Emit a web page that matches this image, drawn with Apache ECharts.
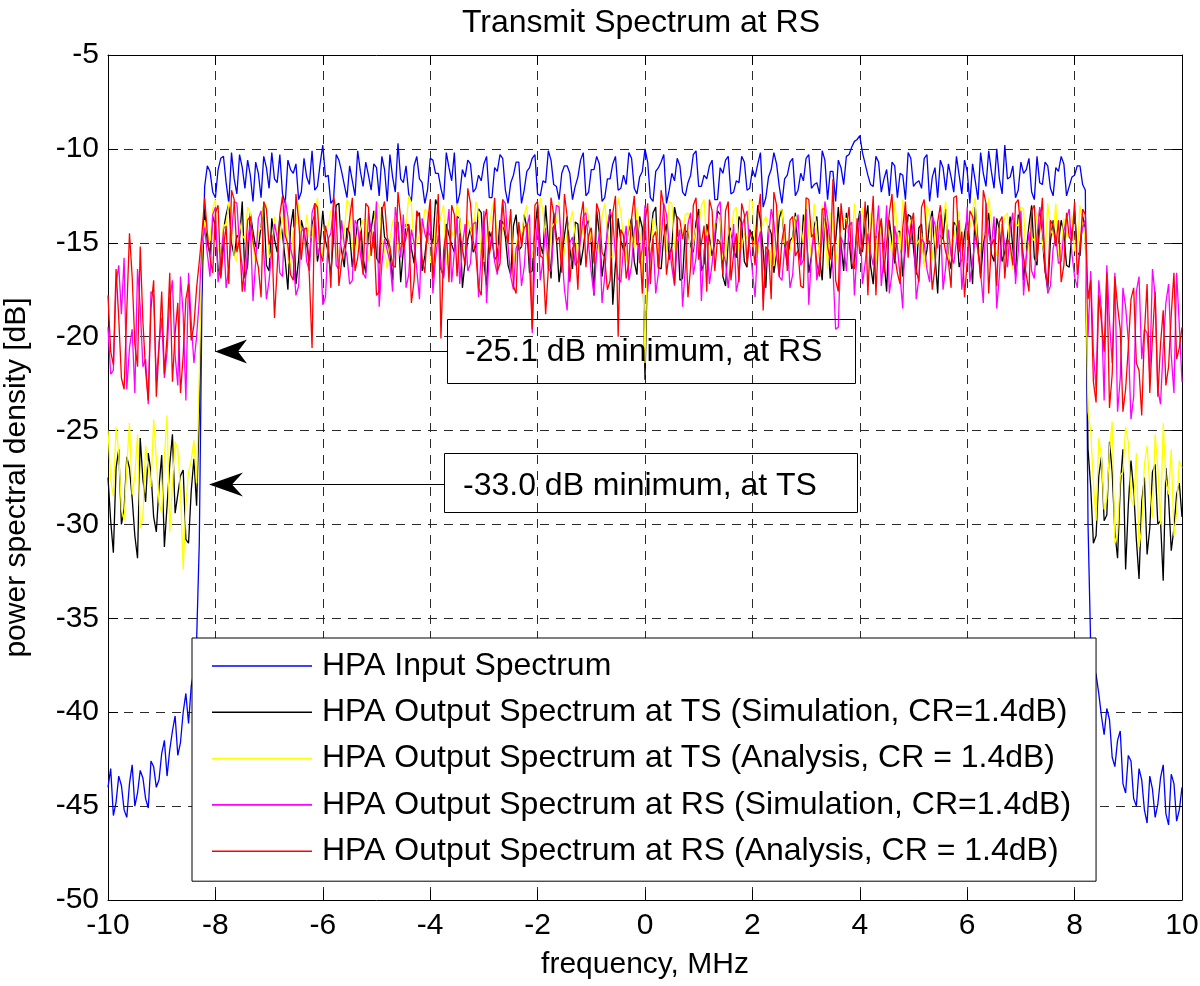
<!DOCTYPE html>
<html>
<head>
<meta charset="utf-8">
<script src="https://cdn.jsdelivr.net/npm/echarts/dist/echarts.min.js"></script>
<style>html,body{margin:0;padding:0;background:#fff}#chart{width:1200px;height:986px}</style>
</head>
<body>
<div id="chart"></div>
<script>
// ---------- data ----------
const titleText = 'Transmit Spectrum at RS';
const xAxisName = 'frequency, MHz';
const yAxisName = 'power spectral density [dB]';
// samples "A" lie on -10, -9.9, ..., 10 ; samples "B" lie half a step later: -9.95, -9.85, ..., 9.95
const freqStart = -10, freqStep = 0.1;
const xTicks = { min: -10, max: 10, interval: 2 };
const yTicks = { min: -50, max: -5, interval: 5 };
const seriesNames = [
  'HPA Input Spectrum',
  'HPA Output Spectrum at TS (Simulation, CR=1.4dB)',
  'HPA Output Spectrum at TS (Analysis, CR = 1.4dB)',
  'HPA Output Spectrum at RS (Simulation, CR=1.4dB)',
  'HPA Output Spectrum at RS (Analysis, CR = 1.4dB)'
];
const seriesColors = ['#0000ff', '#000000', '#ffff00', '#ff00ff', '#ff0000'];

const hpaInputA = [
-44.0,-45.5,-43.4,-45.2,-43.8,-45.0,-43.1,-44.6,-42.6,-44.0,-42.2,-43.4,-41.0,-42.3,-40.0,-40.6,-37.8,-31.0,
-12.0,-11.2,-12.6,-10.5,-11.8,-10.2,-12.4,-11.0,-10.6,-12.8,
-11.3,-10.4,-12.1,-11.6,-10.3,-12.9,-11.1,-10.8,-12.3,-11.5,
-10.1,-12.0,-9.8,-11.4,-12.7,-10.6,-11.9,-10.9,-12.5,-11.2,
-10.7,-12.2,-11.0,-10.4,-12.8,-11.5,-9.7,-11.8,-12.4,-10.9,
-11.6,-12.9,-10.5,-11.3,-12.1,-10.2,-11.7,-13.0,-11.1,-10.6,
-12.3,-11.4,-10.8,-12.6,-11.0,-10.3,-12.2,-11.8,-10.7,-12.9,
-11.2,-10.5,-12.4,-11.7,-10.1,-11.9,-12.7,-10.9,-11.3,-12.0,
-10.6,-12.5,-11.1,-10.4,-12.8,-11.6,-10.8,-12.2,-11.4,-10.2,
-12.1,-11.5,-10.0,-12.6,-11.2,-10.7,-12.9,-11.3,-10.5,-12.3,
-11.8,-10.3,-12.0,-11.4,-10.9,-12.7,-11.0,-10.6,-12.4,-11.7,
-10.4,-12.2,-11.1,-10.8,-13.1,-11.5,-10.2,-12.0,-11.6,-10.7,
-12.5,-11.3,-10.5,-12.1,-11.8,-10.1,-12.7,-11.2,-10.6,-11.9,
-10.3,-9.6,-9.3,-10.8,-11.9,-10.4,-12.3,-11.1,-10.7,-12.6,
-11.4,-10.2,-12.0,-11.7,-10.5,-12.8,-11.0,-10.6,-12.2,-11.5,
-10.4,-12.4,-11.2,-10.8,-12.7,-11.3,-10.1,-12.1,-11.6,-9.8,
-11.5,-12.6,-10.7,-11.1,-12.3,-10.4,-11.9,-10.9,-12.5,-11.2,
-10.8,-12.0,-11.4,-10.9,-12.2,
-36.5,-38.0,-40.2,-39.8,-42.4,-41.5,-43.8,-42.3,-44.6,-43.0,-45.2,-43.4,-45.6,-43.5,-45.4,-43.3,-45.8,-44.0
];
const hpaInputB = [
-43.0,-44.8,-43.9,-45.6,-42.8,-44.3,-43.5,-45.1,-42.9,-43.6,-41.5,-42.0,-40.2,-41.6,-39.0,-38.6,-36.2,
-18.0,
-10.9,-12.3,-11.1,-10.4,-12.9,-11.6,-10.3,-12.1,-11.4,-10.7,
-12.6,-11.0,-10.2,-11.8,-12.4,-10.6,-11.3,-12.7,-10.5,-11.9,
-12.2,-10.8,-11.5,-12.9,-10.3,-11.2,-12.6,-11.7,-10.1,-12.0,
-11.4,-10.8,-12.5,-11.1,-10.3,-12.3,-11.6,-10.9,-12.8,-10.4,
-11.8,-12.2,-10.6,-11.3,-12.7,-11.0,-10.2,-12.4,-11.5,-10.8,
-12.1,-11.7,-10.4,-12.6,-11.2,-10.5,-12.9,-11.4,-10.7,-12.2,
-11.0,-10.3,-12.5,-11.8,-10.6,-12.0,-11.3,-10.9,-12.7,-11.5,
-10.2,-12.3,-11.1,-10.8,-12.6,-11.6,-10.4,-12.1,-11.9,-10.5,
-12.4,-11.2,-10.7,-12.8,-11.0,-10.3,-12.2,-11.7,-10.9,-12.5,
-11.4,-10.1,-12.0,-11.6,-10.6,-12.7,-11.3,-10.4,-12.3,-11.8,
-10.7,-12.1,-11.5,-10.2,-12.6,-11.1,-10.8,-12.9,-11.4,-10.5,
-12.2,-11.7,-10.3,-11.9,-12.4,-10.6,-11.2,-12.8,-11.0,-10.4,
-9.9,-9.5,-10.2,-11.4,-12.0,-10.7,-11.6,-12.5,-10.9,-11.3,
-12.7,-10.5,-11.8,-12.1,-10.3,-11.5,-12.6,-11.0,-10.8,-12.3,
-11.4,-10.6,-12.9,-11.7,-10.2,-12.0,-11.2,-10.0,-12.4,-11.6,
-10.9,-12.2,-11.3,-10.5,-12.7,-11.8,-10.7,-12.1,-11.0,-10.4,
-12.5,-11.5,-10.9,-11.9,
-30.0,
-37.5,-39.0,-41.2,-40.4,-42.9,-41.0,-44.3,-42.6,-45.0,-43.6,-45.9,-44.1,-44.9,-42.8,-46.0,-43.8,-45.2
];

const tsSimulationA = [
-27.5,-31.5,-26.0,-29.2,-27.0,-30.6,-25.4,-28.8,-27.2,-30.4,-26.3,-29.0,-25.2,-28.4,-27.1,-31.0,-26.5,-24.0,
-13.2,-15.6,-14.1,-16.8,-13.5,-15.0,-14.6,-12.8,-16.2,-14.4,
-15.3,-13.0,-16.5,-14.8,-13.6,-15.9,-14.2,-17.2,-13.8,-15.1,
-14.0,-16.0,-13.3,-15.5,-14.7,-12.9,-16.3,-14.5,-15.2,-13.7,
-16.6,-14.3,-15.8,-13.1,-14.9,-17.0,-13.9,-15.4,-14.1,-16.1,
-13.4,-15.7,-14.6,-12.7,-16.4,-14.0,-15.1,-13.6,-17.4,-14.8,
-15.5,-13.2,-16.0,-14.4,-15.9,-13.8,-14.7,-16.7,-13.5,-15.2,
-14.2,-16.5,-13.0,-15.6,-14.9,-13.4,-17.1,-14.6,-15.3,-13.9,
-16.2,-14.1,-15.0,-13.3,-16.8,-14.5,-18.3,-13.7,-15.4,-14.3,
-16.0,-13.6,-22.3,-14.8,-13.1,-16.4,-14.0,-15.2,-13.8,-16.9,
-14.4,-15.5,-13.2,-16.1,-14.7,-15.0,-13.5,-17.3,-14.2,-15.8,
-13.9,-16.3,-14.6,-13.0,-15.4,-14.1,-16.6,-13.7,-15.1,-14.9,
-13.4,-16.0,-14.3,-15.7,-13.6,-17.0,-14.5,-15.2,-13.1,-16.5,
-14.8,-15.9,-13.3,-14.0,-16.2,-14.7,-13.8,-17.6,-15.0,-14.4,
-16.8,-13.5,-15.3,-14.2,-16.1,-13.9,-15.6,-14.6,-13.2,-16.4,
-14.1,-15.8,-13.7,-17.2,-14.9,-15.1,-13.4,-16.0,-14.3,-15.5,
-13.6,-16.7,-14.0,-15.4,-13.0,-16.2,-14.8,-17.5,-13.8,-15.0,
-14.5,-16.3,-13.3,-15.7,-14.2,
-28.0,-30.6,-26.4,-29.5,-27.2,-31.8,-26.0,-29.0,-28.2,-32.9,-27.5,-30.2,-26.8,-29.8,-27.0,-31.4,-28.4,-29.6
];
const tsSimulationB = [
-29.8,-27.0,-30.0,-26.4,-28.6,-31.8,-27.6,-26.2,-29.6,-28.0,-31.2,-26.8,-29.4,-27.4,-30.8,-28.2,-29.0,
-16.5,
-15.0,-13.6,-16.4,-14.3,-12.9,-15.7,-14.8,-16.9,-13.4,-15.2,
-14.1,-16.2,-13.7,-15.5,-14.6,-17.5,-13.2,-15.9,-14.4,-16.0,
-13.5,-15.1,-14.9,-16.7,-13.0,-15.4,-14.2,-16.3,-13.8,-15.8,
-14.5,-13.3,-16.1,-14.7,-15.6,-13.9,-17.1,-14.0,-15.3,-13.6,
-16.5,-14.4,-15.0,-13.1,-16.8,-14.6,-15.5,-13.7,-16.0,-14.2,
-15.2,-13.4,-17.3,-14.8,-15.7,-13.9,-16.2,-14.1,-15.4,-13.5,
-16.6,-14.3,-15.1,-13.0,-16.9,-14.7,-15.8,-13.6,-16.4,-14.0,
-15.3,-13.8,-17.8,-14.5,-15.6,-13.2,-16.1,-14.9,-15.0,-13.7,
-16.7,-14.2,-15.5,-13.4,-16.3,-14.6,-15.9,-13.1,-17.0,-14.4,
-15.2,-13.9,-16.5,-14.0,-15.7,-13.3,-16.8,-14.8,-15.4,-13.6,
-16.0,-14.3,-15.1,-13.8,-17.4,-14.5,-15.6,-13.2,-16.2,-14.7,
-15.3,-13.5,-16.6,-14.1,-15.8,-13.7,-16.9,-14.9,-15.0,-13.4,
-16.4,-14.2,-15.5,-13.0,-17.2,-14.6,-15.9,-13.8,-16.1,-14.4,
-15.2,-13.6,-16.7,-14.0,-15.4,-13.3,-17.7,-14.8,-15.7,-13.9,
-16.3,-14.5,-15.1,-13.1,-16.8,-14.3,-15.6,-13.7,-16.0,-14.7,
-15.3,-13.5,-17.0,-14.1,-15.8,-13.2,-16.5,-14.9,-15.0,-13.8,
-16.2,-14.4,-15.5,-13.6,
-26.0,
-31.0,-27.4,-29.8,-25.6,-30.4,-28.0,-32.4,-26.6,-30.8,-28.8,-31.6,-27.2,-30.0,-33.0,-28.6,-30.2,-27.8
];

const tsAnalysisA = [
-25.0,-28.5,-26.2,-29.8,-24.6,-27.4,-30.2,-25.8,-28.0,-26.5,-29.4,-24.2,-27.8,-26.0,-32.4,-27.2,-25.5,-22.0,
-13.8,-14.9,-12.7,-15.6,-14.2,-13.4,-16.0,-14.6,-13.1,-15.2,
-14.4,-12.9,-15.8,-13.6,-14.8,-13.2,-16.3,-14.0,-15.1,-13.5,
-14.7,-12.6,-15.4,-14.1,-13.3,-16.1,-14.5,-13.0,-15.7,-14.3,
-13.7,-15.3,-12.8,-14.9,-16.4,-13.9,-15.0,-14.2,-12.5,-15.5,
-14.6,-13.2,-15.9,-14.0,-13.6,-16.2,-14.4,-12.9,-15.1,-13.8,
-14.8,-13.4,-16.0,-14.1,-12.7,-15.6,-14.3,-13.5,-15.2,-14.7,
-13.0,-15.8,-14.5,-13.3,-16.5,-14.0,-12.8,-15.4,-13.9,-14.6,
-15.0,-13.1,-14.9,-16.1,-13.6,-14.2,-15.7,-12.6,-14.8,-13.7,
-15.3,-14.4,-21.4,-16.3,-14.1,-13.8,-15.5,-12.9,-14.7,-14.5,
-13.4,-15.1,-14.3,-12.7,-15.9,-14.0,-13.5,-16.0,-14.6,-13.1,
-15.2,-14.8,-12.8,-15.6,-13.9,-14.4,-16.2,-13.3,-14.9,-15.4,
-13.6,-14.1,-12.6,-15.8,-14.5,-13.0,-16.4,-14.2,-15.0,-13.7,
-14.7,-12.9,-15.3,-14.0,-13.4,-16.1,-14.6,-13.2,-15.7,-14.3,
-12.7,-15.5,-13.8,-14.9,-16.3,-13.5,-14.4,-15.1,-12.8,-14.8,
-13.9,-15.9,-14.1,-13.3,-16.0,-14.5,-12.6,-15.2,-14.2,-13.6,
-15.6,-14.0,-13.1,-16.2,-14.7,-13.4,-15.0,-12.9,-14.6,-15.8,
-13.7,-14.3,-15.4,-13.0,-14.8,
-25.0,-29.8,-26.4,-28.6,-24.5,-30.5,-27.2,-25.6,-29.0,-31.2,-26.8,-28.0,-25.2,-30.0,-27.6,-26.0,-29.4,-27.0
];
const tsAnalysisB = [
-27.6,-24.8,-29.2,-26.8,-28.4,-25.2,-29.6,-27.0,-24.4,-28.8,-26.4,-30.4,-25.6,-28.2,-29.0,-26.6,-27.8,
-15.5,
-14.5,-13.2,-15.3,-14.0,-12.8,-15.7,-13.9,-14.8,-13.4,-16.1,
-14.2,-13.0,-15.5,-14.6,-13.7,-15.9,-14.3,-12.9,-15.1,-14.7,
-13.5,-16.2,-14.1,-13.3,-15.6,-14.9,-12.7,-15.2,-14.4,-13.8,
-16.0,-14.0,-13.1,-15.4,-14.8,-13.6,-15.8,-14.2,-12.9,-15.0,
-14.5,-13.4,-16.3,-14.1,-13.0,-15.6,-14.7,-13.7,-15.3,-14.3,
-12.8,-15.9,-14.6,-13.2,-15.1,-14.0,-13.8,-16.1,-14.4,-13.5,
-15.5,-14.9,-12.6,-15.2,-14.2,-13.9,-16.4,-14.5,-13.3,-15.7,
-14.1,-13.6,-15.0,-14.8,-12.9,-15.8,-14.3,-13.4,-16.0,-14.6,
-13.1,-15.4,-14.0,-13.7,-15.6,-14.4,-12.8,-15.3,-14.9,-13.5,
-16.2,-14.2,-13.0,-15.1,-14.7,-13.8,-15.9,-14.1,-13.3,-15.5,
-14.5,-12.7,-15.2,-14.3,-13.6,-16.3,-14.0,-13.2,-15.7,-14.8,
-13.9,-15.0,-14.6,-12.9,-15.8,-14.2,-13.4,-16.1,-14.4,-13.7,
-15.3,-14.9,-13.1,-15.6,-14.1,-13.5,-16.0,-14.7,-12.8,-15.4,
-14.3,-13.8,-15.1,-14.5,-13.0,-15.9,-14.0,-13.6,-16.2,-14.8,
-13.3,-15.5,-14.2,-12.6,-15.2,-14.6,-13.9,-15.7,-14.4,-13.4,
-16.4,-14.1,-13.2,-15.0,-14.9,-13.7,-15.8,-14.3,-12.9,-15.3,
-14.7,-13.5,-15.6,-14.0,
-24.0,
-27.8,-25.4,-29.2,-26.0,-31.0,-27.4,-24.8,-28.6,-26.2,-30.2,-25.8,-29.6,-27.0,-24.6,-28.4,-30.6,-26.6
];

const rsSimulationA = [
-19.5,-21.8,-16.2,-15.8,-20.6,-23.0,-18.4,-21.2,-17.6,-22.4,-19.0,-20.8,-17.0,-22.6,-18.8,-16.6,-21.4,-18.0,
-14.2,-16.8,-13.1,-15.9,-17.4,-14.6,-12.9,-16.2,-15.0,-18.1,
-13.7,-15.5,-17.0,-14.0,-16.6,-12.7,-15.3,-17.8,-14.4,-16.0,
-13.4,-15.7,-18.3,-14.8,-13.0,-16.4,-15.1,-17.2,-13.8,-15.6,
-16.9,-14.3,-12.8,-16.1,-15.4,-17.6,-14.1,-13.5,-16.7,-15.0,
-18.0,-14.5,-13.2,-15.8,-16.3,-14.7,-17.1,-13.6,-15.2,-16.5,
-14.0,-17.9,-13.3,-15.6,-16.0,-14.4,-12.9,-16.8,-15.3,-17.3,
-14.2,-19.8,-13.7,-15.9,-16.4,-14.6,-13.1,-17.5,-15.0,-16.2,
-14.8,-13.4,-16.6,-15.5,-18.2,-14.1,-13.8,-16.9,-15.2,-17.0,
-14.3,-16.1,-13.0,-15.7,-17.7,-14.9,-13.5,-16.3,-15.1,-18.4,
-14.0,-16.7,-13.6,-15.4,-17.2,-14.5,-12.8,-16.0,-15.8,-17.6,
-14.2,-13.3,-16.5,-15.0,-18.0,-14.7,-13.9,-16.8,-15.3,-17.4,
-14.4,-16.2,-13.2,-15.6,-17.0,-14.8,-13.7,-16.4,-19.5,-15.1,
-14.1,-17.8,-13.4,-16.1,-15.5,-14.6,-17.3,-13.0,-16.6,-15.2,
-18.5,-14.3,-13.8,-16.9,-15.0,-17.1,-14.0,-13.5,-16.3,-15.7,
-14.9,-17.5,-13.1,-16.0,-15.4,-18.2,-14.5,-13.6,-16.7,-15.1,
-14.2,-17.2,-13.3,-15.8,-16.5,-14.7,-13.9,-17.7,-15.3,-16.1,
-14.4,-13.2,-16.8,-15.0,-13.8,
-16.5,-22.8,-18.6,-16.2,-21.4,-24.0,-17.4,-20.2,-23.2,-16.8,-19.6,-22.0,-17.8,-23.6,-18.2,-21.0,-16.6,-22.4
];
const rsSimulationB = [
-22.0,-17.2,-18.8,-22.8,-19.6,-16.4,-21.6,-23.6,-17.8,-20.4,-22.2,-18.0,-21.0,-16.8,-23.4,-19.2,-20.0,
-15.0,
-15.6,-13.5,-17.1,-14.4,-16.3,-12.8,-15.2,-17.6,-14.0,-16.0,
-13.3,-18.0,-15.4,-14.7,-16.8,-13.6,-15.9,-17.3,-14.2,-16.5,
-12.9,-15.1,-17.9,-14.5,-16.2,-13.8,-15.7,-17.0,-14.1,-16.6,
-13.4,-15.3,-18.4,-14.8,-16.0,-13.1,-15.8,-17.4,-14.3,-16.4,
-13.7,-15.0,-17.7,-14.6,-16.9,-13.2,-15.5,-17.2,-14.0,-16.1,
-13.9,-15.6,-18.2,-14.4,-16.7,-12.7,-15.2,-17.5,-14.9,-16.3,
-13.5,-15.9,-17.0,-14.2,-16.5,-13.0,-15.4,-18.6,-14.7,-16.0,
-13.6,-15.1,-17.8,-14.5,-16.8,-13.3,-15.7,-17.1,-14.1,-16.2,
-13.8,-15.3,-17.6,-14.8,-16.6,-12.9,-15.0,-17.3,-14.3,-16.4,
-13.4,-15.8,-18.1,-14.6,-16.1,-13.1,-15.5,-17.4,-14.0,-16.9,
-13.7,-15.2,-17.9,-14.4,-16.3,-13.2,-15.6,-17.0,-14.9,-16.7,
-13.5,-15.9,-18.3,-14.2,-16.0,-12.8,-15.1,-19.6,-14.7,-16.5,
-13.9,-15.4,-17.2,-14.5,-16.2,-13.0,-15.7,-17.7,-14.1,-16.8,
-13.3,-15.0,-18.0,-14.8,-16.4,-13.6,-15.3,-17.5,-14.3,-16.1,
-13.8,-15.8,-17.1,-14.6,-16.6,-12.9,-15.2,-18.5,-14.0,-16.3,
-13.4,-15.5,-17.8,-14.4,-16.9,-13.1,-15.9,-17.3,-14.7,-16.0,
-13.7,-15.6,-17.4,-14.2,
-20.0,
-20.8,-17.0,-23.4,-19.2,-16.6,-22.2,-18.4,-24.4,-17.6,-21.2,-19.8,-16.4,-22.8,-20.6,-17.2,-23.0,-19.4
];

const rsAnalysisA = [
-17.8,-21.5,-19.0,-22.8,-14.5,-20.4,-15.2,-21.8,-18.5,-23.2,-17.6,-20.0,-22.4,-18.2,-21.0,-17.2,-19.4,-16.0,
-12.6,-15.8,-13.4,-16.9,-14.1,-12.2,-15.5,-17.6,-13.8,-14.9,
-16.3,-12.8,-15.1,-19.0,-13.5,-14.6,-16.7,-12.4,-15.9,-14.2,
-20.6,-13.1,-16.0,-14.8,-12.5,-17.3,-15.2,-13.7,-16.5,-14.4,
-12.9,-15.7,-17.8,-13.3,-14.7,-16.2,-12.3,-15.4,-14.0,-17.0,
-13.6,-16.6,-12.7,-15.0,-20.1,-14.3,-13.0,-16.8,-15.3,-12.1,
-14.9,-17.4,-13.9,-15.6,-12.6,-16.1,-14.5,-13.2,-17.7,-15.2,
-14.0,-19.6,-12.8,-15.8,-16.4,-13.5,-14.7,-12.4,-17.1,-15.0,
-13.7,-16.3,-14.2,-12.9,-15.5,-17.5,-13.4,-20.0,-14.6,-16.0,
-12.5,-15.1,-13.9,-17.2,-14.4,-12.2,-16.7,-15.3,-13.6,-14.8,
-17.9,-13.0,-15.9,-14.1,-12.7,-16.5,-15.0,-13.3,-17.0,-14.5,
-12.9,-16.2,-14.9,-13.5,-18.6,-15.4,-12.3,-16.8,-14.0,-13.8,
-15.7,-17.3,-12.6,-14.7,-16.1,-13.2,-15.2,-11.6,-17.6,-14.3,
-13.1,-16.4,-15.6,-12.8,-14.6,-17.8,-13.7,-15.0,-12.4,-16.6,
-14.2,-15.8,-13.4,-17.1,-12.7,-14.9,-16.3,-13.0,-15.5,-17.4,
-12.5,-14.4,-16.0,-13.6,-15.3,-12.2,-17.7,-14.8,-13.9,-16.9,
-15.1,-12.9,-14.5,-16.7,-13.3,-15.9,-12.6,-17.2,-14.1,-13.8,
-16.2,-14.7,-12.8,-15.4,-13.5,
-17.0,-23.5,-19.2,-16.6,-22.0,-18.4,-24.0,-20.6,-17.4,-21.8,-19.8,-23.0,-17.6,-20.4,-22.6,-18.8,-21.2,-19.5
];
const rsAnalysisB = [
-20.8,-16.4,-22.2,-18.6,-16.8,-21.6,-19.2,-23.4,-17.0,-20.6,-22.0,-16.6,-19.8,-23.0,-18.0,-20.2,-17.4,
-14.5,
-14.5,-16.6,-13.0,-15.3,-17.2,-12.7,-14.8,-16.1,-13.6,-15.7,
-17.9,-13.2,-14.6,-16.4,-12.5,-15.1,-17.0,-13.8,-14.3,-16.8,
-12.9,-15.5,-14.1,-17.4,-13.4,-16.0,-14.9,-12.6,-15.8,-16.7,
-13.1,-14.4,-17.6,-12.8,-15.2,-16.3,-13.7,-14.7,-18.2,-13.3,
-15.9,-14.0,-16.9,-12.4,-15.4,-17.1,-13.5,-14.5,-16.2,-12.9,
-15.6,-17.8,-13.2,-14.8,-16.5,-12.7,-15.0,-17.3,-13.9,-14.2,
-16.0,-13.0,-15.7,-18.8,-12.6,-14.9,-16.6,-13.6,-15.3,-17.5,
-12.8,-14.6,-16.1,-13.4,-15.8,-17.0,-12.5,-14.3,-16.9,-13.7,
-15.1,-17.7,-12.9,-14.7,-16.4,-13.1,-15.5,-17.2,-13.8,-14.0,
-16.3,-12.6,-15.0,-17.6,-13.3,-14.8,-16.7,-12.8,-15.6,-17.1,
-13.5,-14.4,-16.2,-12.4,-15.2,-18.0,-13.0,-14.9,-16.5,-13.6,
-15.4,-17.4,-12.7,-14.5,-16.8,-13.2,-15.9,-17.0,-12.9,-14.2,
-16.1,-13.7,-15.3,-17.8,-12.5,-14.6,-16.6,-13.4,-15.7,-17.2,
-12.8,-14.1,-16.4,-13.1,-15.0,-17.5,-13.9,-14.7,-16.0,-12.6,
-15.5,-17.9,-13.3,-14.4,-16.9,-12.9,-15.1,-17.3,-13.6,-14.8,
-16.2,-12.7,-15.8,-17.6,-13.0,-14.3,-16.5,-13.8,-15.2,-17.1,
-13.4,-14.9,-16.7,-13.2,
-18.0,
-22.4,-17.8,-20.8,-23.8,-16.8,-19.6,-22.8,-18.0,-21.4,-24.2,-17.2,-20.0,-23.2,-18.6,-21.6,-16.6,-20.6
];

const allSeries = [
  [hpaInputA, hpaInputB],
  [tsSimulationA, tsSimulationB],
  [tsAnalysisA, tsAnalysisB],
  [rsSimulationA, rsSimulationB],
  [rsAnalysisA, rsAnalysisB]
];

// ---------- chart ----------
const FONT = '"Liberation Sans", Arial, Helvetica, sans-serif';
const chart = echarts.init(document.getElementById('chart'), null, { renderer: 'canvas' });

function buildPairs(a, b) {
  const out = [];
  for (let i = 0; i < a.length; i++) {
    const f = freqStart + i * freqStep;
    out.push([+f.toFixed(3), a[i]]);
    if (i < b.length) out.push([+(f + freqStep / 2).toFixed(3), b[i]]);
  }
  return out;
}

const gridDash = { color: '#2a2a2a', type: [9, 7], width: 1 };
const axisBase = {
  type: 'value',
  axisLine: { show: true, onZero: false, lineStyle: { color: '#000', width: 1 } },
  axisTick: { show: true, inside: true, length: 10, lineStyle: { color: '#000', width: 1 } }
};

const option = {
  animation: false,
  backgroundColor: '#fff',
  title: {
    text: titleText, left: 636, top: 2, textAlign: 'center',
    textStyle: { fontFamily: FONT, fontSize: 32, fontWeight: 'normal', color: '#000' }
  },
  grid: { left: 108, right: 18, top: 55, bottom: 86, containLabel: false, outerBoundsMode: 'none' },
  xAxis: [
    Object.assign({}, axisBase, {
      min: xTicks.min, max: xTicks.max, interval: xTicks.interval, position: 'bottom',
      axisLabel: { fontFamily: FONT, fontSize: 30, color: '#000', margin: 11 },
      splitLine: { show: true, lineStyle: gridDash },
      name: xAxisName, nameLocation: 'middle', nameGap: 50,
      nameTextStyle: { fontFamily: FONT, fontSize: 30, color: '#000' }
    }),
    Object.assign({}, axisBase, {
      min: xTicks.min, max: xTicks.max, interval: xTicks.interval, position: 'top',
      axisLabel: { show: false }, splitLine: { show: false }
    })
  ],
  yAxis: [
    Object.assign({}, axisBase, {
      min: yTicks.min, max: yTicks.max, interval: yTicks.interval, position: 'left',
      axisLabel: { fontFamily: FONT, fontSize: 30, color: '#000', margin: 9 },
      splitLine: { show: true, lineStyle: gridDash },
      name: yAxisName, nameLocation: 'middle', nameGap: 76, nameRotate: 90,
      nameTextStyle: { fontFamily: FONT, fontSize: 30, color: '#000' }
    }),
    Object.assign({}, axisBase, {
      min: yTicks.min, max: yTicks.max, interval: yTicks.interval, position: 'right',
      axisLabel: { show: false }, splitLine: { show: false }
    })
  ],
  legend: {
    orient: 'vertical', left: 192, top: 638,
    padding: [12, 25, 14, 20], itemGap: 14.3, itemWidth: 100, itemHeight: 1.6,
    icon: 'rect',
    backgroundColor: '#fff', borderColor: '#000', borderWidth: 1, borderRadius: 0,
    textStyle: { fontFamily: FONT, fontSize: 32, color: '#000', lineHeight: 32, padding: [0, 0, 0, 5] },
    data: seriesNames, z: 10
  },
  series: allSeries.map((ab, k) => ({
    name: seriesNames[k], type: 'line', data: buildPairs(ab[0], ab[1]),
    xAxisIndex: 0, yAxisIndex: 0,
    symbol: 'none', showSymbol: false, sampling: null,
    lineStyle: { color: seriesColors[k], width: 1.3 },
    itemStyle: { color: seriesColors[k] },
    z: 2 + k
  })),
  graphic: [
    { type: 'rect', z: 100, shape: { x: 447.5, y: 319.5, width: 408, height: 64 }, style: { fill: 'none', stroke: '#000', lineWidth: 1 } },
    { type: 'text', z: 100, x: 465, y: 352, style: { text: '-25.1 dB minimum, at RS', font: '32px "Liberation Sans", Arial, sans-serif', fill: '#000', verticalAlign: 'middle' } },
    { type: 'line', z: 100, shape: { x1: 236, y1: 351.5, x2: 447, y2: 351.5 }, style: { stroke: '#000', lineWidth: 1 } },
    { type: 'polygon', z: 100, shape: { points: [[215, 351.5], [247, 339.5], [238, 351.5], [247, 363.5]] }, style: { fill: '#000' } },
    { type: 'rect', z: 100, shape: { x: 444.5, y: 453.5, width: 413, height: 59 }, style: { fill: 'none', stroke: '#000', lineWidth: 1 } },
    { type: 'text', z: 100, x: 463, y: 486, style: { text: '-33.0 dB minimum, at TS', font: '32px "Liberation Sans", Arial, sans-serif', fill: '#000', verticalAlign: 'middle' } },
    { type: 'line', z: 100, shape: { x1: 230, y1: 484.5, x2: 444, y2: 484.5 }, style: { stroke: '#000', lineWidth: 1 } },
    { type: 'polygon', z: 100, shape: { points: [[209, 484.5], [243, 472.5], [232, 484.5], [243, 496.5]] }, style: { fill: '#000' } }
  ]
};
chart.setOption(option);
</script>
</body>
</html>
